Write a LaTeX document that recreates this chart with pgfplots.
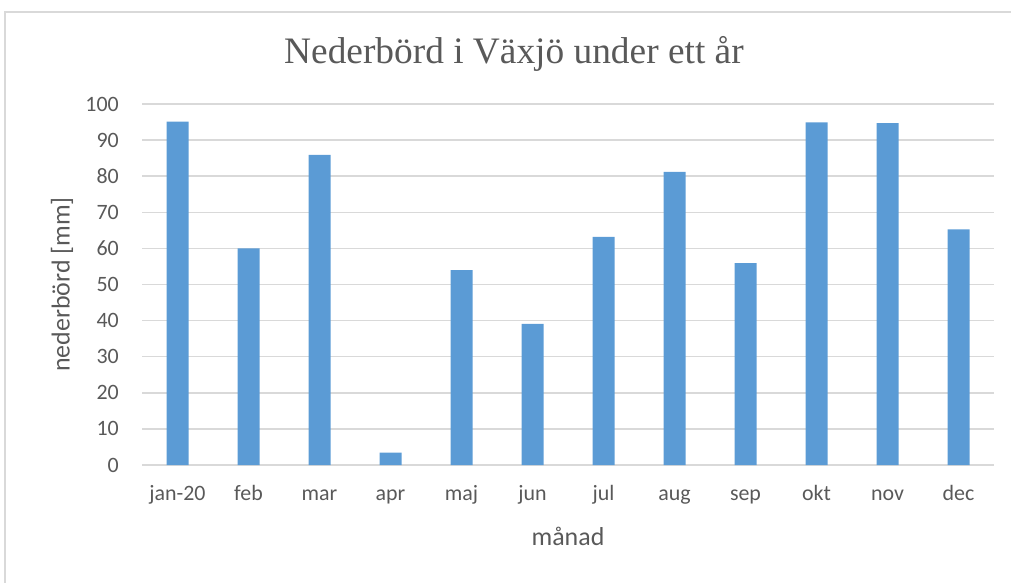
\documentclass[border=0pt]{standalone}
\usepackage{pgfplots}
\pgfplotsset{compat=1.18}
\usepackage{fontspec}
\setmainfont{Carlito}
\newfontfamily\titlefont{Liberation Serif}
\definecolor{barblue}{HTML}{5B9BD5}
\definecolor{gridgray}{HTML}{D9D9D9}
\definecolor{txtgray}{HTML}{595959}
\begin{document}
\begin{tikzpicture}
\useasboundingbox (0bp,0bp) rectangle (1011bp,583bp);
\draw[gridgray, line width=1.2bp] (5bp,-5bp) -- (5bp,571bp) -- (1015bp,571bp);
\begin{axis}[
  at={(142bp,118bp)}, anchor=south west,
  scale only axis, width=852bp, height=361bp,
  xmin=-0.5, xmax=11.5, ymin=0, ymax=100,
  xtick=data,
  xticklabels={jan-20,feb,mar,apr,maj,jun,jul,aug,sep,okt,nov,dec},
  ytick={0,10,...,100},
  axis line style={draw=none},
  tick style={draw=none},
  ymajorgrids, grid style={gridgray, line width=1.5bp},
  ticklabel style={font=\fontsize{22}{24}\selectfont, text=txtgray, inner sep=0pt},
  /pgf/number format/assume math mode=true,
  yticklabel style={anchor=east, xshift=-23bp},
  xticklabel style={anchor=base, yshift=-35bp},
  xlabel={månad}, ylabel={nederbörd [mm]},
  label style={font=\fontsize{26}{28}\selectfont, text=txtgray, inner sep=0pt},
  xlabel style={at={(axis description cs:0.5,-0.2216)}, anchor=base},
  ylabel style={at={(axis description cs:-0.0939,0.5)}, anchor=center},
  title={\titlefont Nederbörd i Växjö under ett år},
  title style={font=\fontsize{37.5}{40}\selectfont, text=txtgray, inner sep=0pt,
     at={(axis description cs:0.4366,1.0970)}, anchor=base},
  clip=false,
]
\addplot[ybar, bar width=22bp, fill=barblue, draw=none] coordinates {
(0,95.1) (1,60.0) (2,85.9) (3,3.4) (4,54.0) (5,39.1) (6,63.2) (7,81.2) (8,55.9) (9,94.9) (10,94.7) (11,65.3)};
\end{axis}
\end{tikzpicture}
\end{document}
